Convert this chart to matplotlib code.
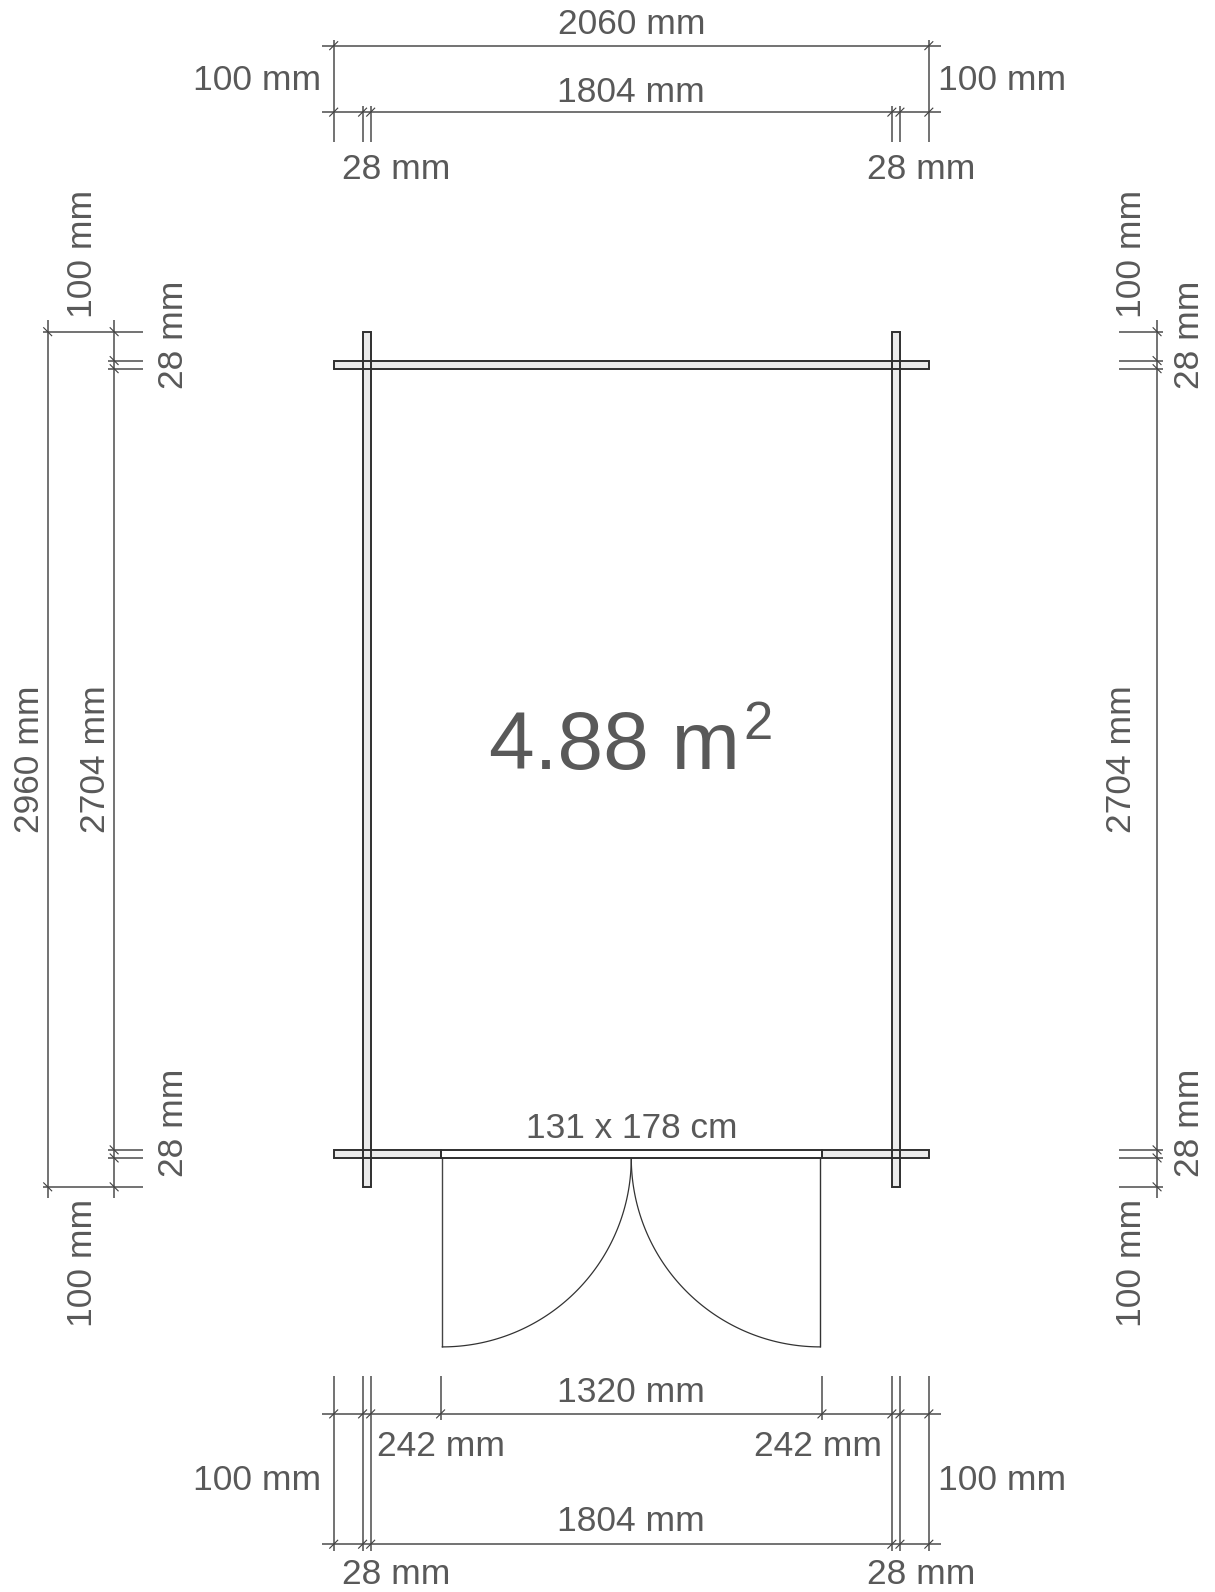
import numpy as np
import matplotlib.pyplot as plt

plt.rcParams['font.family'] = ['Liberation Sans', 'DejaVu Sans']

# plan dimensions in mm
width = 2060
depth = 2960
overhang = 100
wall = 28
door_width = 1320
inner_width = 1804
inner_depth = 2704
side_gap = 242
area_label = "4.88 m"
door_label = "131 x 178 cm"

GREY = '#595959'
LINE = '#5a5a5a'
DARK = '#2f2f2f'
PX = 1 / 0.2889  # mm per pixel

fig = plt.figure(figsize=(12.15, 15.92), dpi=100)
ax = fig.add_axes([0, 0, 1, 1])
ax.set_xlim(-333.7 * PX, (1215 - 333.7) * PX)
ax.set_ylim((1592 - 331.7) * PX, -331.7 * PX)
ax.axis('off')


def seg(x0, y0, x1, y1, lw=1.2, color=LINE, z=2):
    ax.plot([x0, x1], [y0, y1], color=color, lw=lw, solid_capstyle='butt', zorder=z)


def tick(x, y, sign):
    d = 4 * PX
    ax.plot([x - d, x + d], [y - sign * d, y + sign * d], color='#404040', lw=0.8, zorder=3)


def label(x, y, s, rot=0, size=25.5):
    ax.text(x, y, s, color=GREY, fontsize=size, rotation=rot, ha='center', va='center', zorder=5)


def wall_rect(x, y, w, h, fc='#ebebeb'):
    # fill first, outline above every fill so crossing walls show both outlines
    ax.add_patch(plt.Rectangle((x, y), w, h, fc=fc, ec='none', zorder=4))
    ax.add_patch(plt.Rectangle((x, y), w, h, fc='none', ec=DARK, lw=1.4, zorder=4.5))


xs_wall = [0, overhang, overhang + wall, width - overhang - wall, width - overhang, width]
ys_wall = [0, overhang, overhang + wall, depth - overhang - wall, depth - overhang, depth]
ext = 12 * PX

# top dimensions
y1, y2 = -990, -760
y_end = -658
seg(-ext, y1, width + ext, y1)
seg(-ext, y2, width + ext, y2)
for x in [0, width]:
    seg(x, y1 - 6 * PX, x, y_end)
    tick(x, y1, -1)
for x in xs_wall:
    if x not in (0, width):
        seg(x, y2 - 6 * PX, x, y_end)
    tick(x, y2, -1)

# bottom dimensions
y3, y4 = 3746, 4197
seg(-ext, y3, width + ext, y3)
seg(-ext, y4, width + ext, y4)
door_xs = [(width - door_width) / 2, (width + door_width) / 2]
for x in xs_wall:
    seg(x, y3 - 38 * PX, x, y4 + 7 * PX)
    tick(x, y3, -1)
    tick(x, y4, -1)
for x in door_xs:
    seg(x, y3 - 38 * PX, x, y3 + 6 * PX)
    tick(x, y3, -1)

# left dimensions
x1, x2 = -990, -760
seg(x1, -ext, x1, depth + 11 * PX)
seg(x2, -ext, x2, depth + 11 * PX)
for y in [0, depth]:
    seg(x1 - 5 * PX, y, -660, y)
    tick(x1, y, 1)
for y in ys_wall:
    if y not in (0, depth):
        seg(x2 - 6 * PX, y, -660, y)
    tick(x2, y, 1)

# right dimensions
x3 = 2850
seg(x3, -ext, x3, depth + 11 * PX)
for y in ys_wall:
    seg(x3 - 38 * PX, y, x3 + 6 * PX, y)
    tick(x3, y, 1)

# walls
wall_rect(overhang, 0, wall, depth)
wall_rect(width - overhang - wall, 0, wall, depth)
wall_rect(0, overhang, width, wall)
y_front = depth - overhang - wall
wall_rect(0, y_front, door_xs[0], wall)
wall_rect(door_xs[1], y_front, width - door_xs[1], wall)
wall_rect(door_xs[0], y_front, door_width, wall, fc='white')

# door leaves
r = door_width / 2 - 6
y_hinge = depth - overhang
t = np.linspace(0, np.pi / 2, 100)
ax.plot(door_xs[0] + 6 + r * np.sin(t), y_hinge + r * np.cos(t), color='#333333', lw=0.9, zorder=3)
ax.plot(door_xs[1] - 6 - r * np.sin(t), y_hinge + r * np.cos(t), color='#333333', lw=0.9, zorder=3)
seg(door_xs[0] + 6, y_hinge, door_xs[0] + 6, y_hinge + r, lw=1.0, color='#444444')
seg(door_xs[1] - 6, y_hinge, door_xs[1] - 6, y_hinge + r, lw=1.0, color='#333333')

# labels
cx = width / 2
label(cx, -1065, f"{width} mm")
label(cx, -829, f"{inner_width} mm")
label(-267, -868, f"{overhang} mm")
label(width + 254, -868, f"{overhang} mm")
label(215, -563, f"{wall} mm")
label(width - 25, -563, f"{wall} mm")

label(-1054, depth / 2, f"{depth} mm", rot=90)
label(-824, depth / 2, f"{inner_depth} mm", rot=90)
label(-868, -270, f"{overhang} mm", rot=90)
label(-868, depth + 262, f"{overhang} mm", rot=90)
label(-556, 10, f"{wall} mm", rot=90)
label(-556, depth - 223, f"{wall} mm", rot=90)

label(2728, depth / 2, f"{inner_depth} mm", rot=90)
label(2762, -270, f"{overhang} mm", rot=90)
label(2762, depth + 262, f"{overhang} mm", rot=90)
label(2961, 10, f"{wall} mm", rot=90)
label(2961, depth - 223, f"{wall} mm", rot=90)

label(cx, 3672, f"{door_width} mm")
label(372, 3860, f"{side_gap} mm")
label(width - 385, 3860, f"{side_gap} mm")
label(-267, 3976, f"{overhang} mm")
label(width + 254, 3976, f"{overhang} mm")
label(cx, 4117, f"{inner_width} mm")
label(215, 4302, f"{wall} mm")
label(width - 25, 4302, f"{wall} mm")

label(cx, y_front - 75, door_label, size=25.4)
ax.text(cx - 57, depth / 2 - 40, area_label, color=GREY, fontsize=59, ha='center', va='center', zorder=5)
ax.text(cx + 440, depth / 2 - 120, "2", color=GREY, fontsize=38, ha='center', va='center', zorder=5)

fig.savefig('out.png', dpi=100)
